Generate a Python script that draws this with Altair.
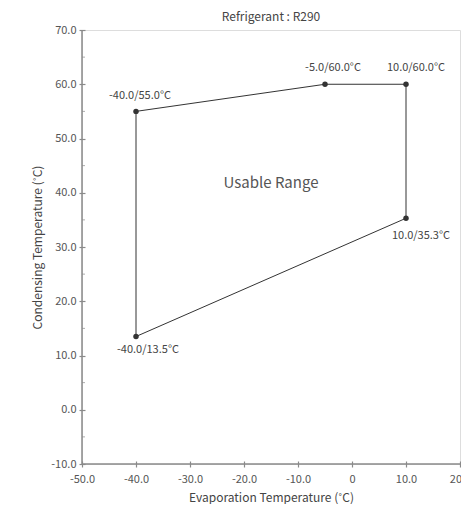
import altair as alt
import pandas as pd

# ---- data ----
evap = [-40.0, -40.0, -5.0, 10.0, 10.0, -40.0]
cond = [13.5, 55.0, 60.0, 60.0, 35.3, 13.5]
point_labels = ["-40.0/13.5°C", "-40.0/55.0°C", "-5.0/60.0°C", "10.0/60.0°C", "10.0/35.3°C"]
x_ticks = [-50, -40, -30, -20, -10, 0, 10, 20]
y_ticks = [-10, 0, 10, 20, 30, 40, 50, 60, 70]
y_minor = [-5, 5, 15, 25, 35, 45, 55, 65]
region_label = "Usable Range"
region_pos = [-15.0, 41.8]
title_text = "Refrigerant : R290"
x_title = "Evaporation Temperature (˚C)"
y_title = "Condensing Temperature (˚C)"

# label offsets (styling, pixels)
label_dx = [12, 4, 8, 10, 15]
label_dy = [13, -15, -16, -16, 18]

FONT = "Noto Sans CJK SC"
AX = "#8a8a8a"

poly = pd.DataFrame({"x": evap, "y": cond, "order": list(range(len(evap)))})
pts = pd.DataFrame({"x": evap[:5], "y": cond[:5], "label": point_labels})
one = pd.DataFrame({"a": [0]})

xs = alt.Scale(domain=[-50, 20], nice=False, zero=False)
ys = alt.Scale(domain=[-10, 70], nice=False, zero=False)

fmt = "replace(format(datum.value, '.1f'), '\u2212', '-')"

x_axis = alt.Axis(values=x_ticks, grid=False, domain=False, tickSize=6, offset=-3,
                  tickColor=AX, tickWidth=1.2, labelPadding=6, labelFlush=False,
                  labelOverlap=False,
                  labelExpr="datum.value == 0 ? '0' : " + fmt,
                  labelFont=FONT, labelFontSize=11, labelColor="#555",
                  title=x_title, titleFont=FONT, titleFontSize=12, titleFontWeight="normal",
                  titleColor="#444", titlePadding=8)
y_axis = alt.Axis(values=y_ticks, grid=False, domain=False, tickSize=6, offset=-3,
                  tickColor=AX, tickWidth=1.2, labelPadding=3, labelExpr=fmt,
                  labelFlush=False, labelOverlap=False,
                  labelFont=FONT, labelFontSize=11, labelColor="#555",
                  title=y_title, titleFont=FONT, titleFontSize=12, titleFontWeight="normal",
                  titleColor="#444", titlePadding=6)

base_axes = alt.Chart(one).mark_point(opacity=0).encode(
    x=alt.X("xv:Q", scale=xs, axis=x_axis),
    y=alt.Y("yv:Q", scale=ys, axis=y_axis),
).transform_calculate(xv="-50", yv="-10")

x_domain = alt.Chart(one).mark_rule(color=AX, strokeWidth=1.5).encode(
    x=alt.datum(-50, scale=xs), x2=alt.datum(20), y=alt.datum(-10, scale=ys))
y_domain = alt.Chart(one).mark_rule(color=AX, strokeWidth=1.5).encode(
    x=alt.datum(-50, scale=xs), y=alt.datum(-10, scale=ys), y2=alt.datum(70))

minor = alt.Chart(pd.DataFrame({"y": y_minor})).mark_tick(
    color=AX, size=3, thickness=1, orient="horizontal", xOffset=1.5).encode(
    x=alt.datum(-50, scale=xs), y=alt.Y("y:Q", scale=ys))

line = alt.Chart(poly).mark_line(color="#333", strokeWidth=1).encode(
    x=alt.X("x:Q", scale=xs), y=alt.Y("y:Q", scale=ys), order="order:Q")

points = alt.Chart(pts).mark_circle(color="#333", size=30, opacity=1).encode(
    x=alt.X("x:Q", scale=xs), y=alt.Y("y:Q", scale=ys))

texts = []
for i in range(len(point_labels)):
    texts.append(
        alt.Chart(pts.iloc[[i]]).mark_text(
            font=FONT, fontSize=11, color="#444", dx=label_dx[i], dy=label_dy[i],
            baseline="middle", align="center").encode(
            x=alt.X("x:Q", scale=xs), y=alt.Y("y:Q", scale=ys), text="label:N"))

region = alt.Chart(pd.DataFrame({"x": [region_pos[0]], "y": [region_pos[1]], "t": [region_label]})).mark_text(
    font=FONT, fontSize=15, color="#555", baseline="middle", align="center").encode(
    x=alt.X("x:Q", scale=xs), y=alt.Y("y:Q", scale=ys), text="t:N")

chart = alt.layer(base_axes, x_domain, y_domain, minor, line, points, region, *texts).properties(
    width=378, height=434,
    title=alt.TitleParams(title_text, font=FONT, fontSize=12, fontWeight="normal",
                          color="#444", anchor="middle", offset=0),
    autosize=alt.AutoSizeParams(type="none"),
    padding={"left": 74, "top": 22, "right": 1, "bottom": 40},
).configure_view(stroke=None).configure(font=FONT)

chart.save("out.html", embed_options={"renderer": "svg", "actions": False})
